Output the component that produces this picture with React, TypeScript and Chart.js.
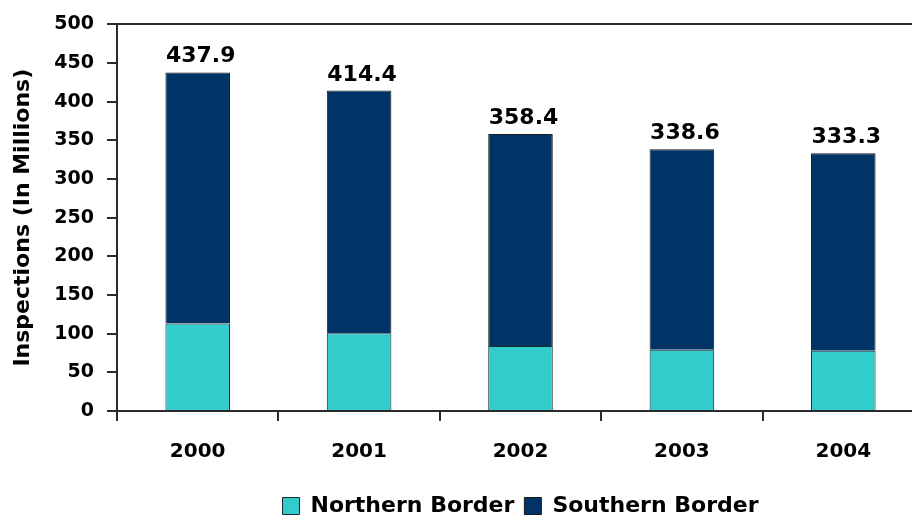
import React, { useEffect, useRef } from "react";
import { Chart, registerables } from "chart.js";

Chart.register(...registerables);

const years = ["2000", "2001", "2002", "2003", "2004"];
const northern = [113.3, 100.5, 84.0, 79.2, 78.0];
const southern = [324.6, 313.9, 274.4, 259.4, 255.3];
const yTicks = [0, 50, 100, 150, 200, 250, 300, 350, 400, 450, 500];

const FONT = "'DejaVu Sans', sans-serif";
const DARK = "#2a2a2a";

const totalsPlugin = {
  id: "totals",
  afterDatasetsDraw(chart: any) {
    const ctx = chart.ctx;
    const meta = chart.getDatasetMeta(1);
    ctx.save();
    ctx.font = `bold 22px ${FONT}`;
    ctx.fillStyle = "#000";
    ctx.textAlign = "center";
    ctx.textBaseline = "alphabetic";
    meta.data.forEach((bar: any, i: number) => {
      const total = (northern[i] + southern[i]).toFixed(1);
      ctx.fillText(total, bar.x + 3, bar.y - 10);
    });
    ctx.restore();
  },
};

export default function App() {
  const ref = useRef<HTMLCanvasElement | null>(null);
  useEffect(() => {
    document.body.style.margin = "0";
    document.body.style.overflow = "hidden";
    const chart = new Chart(ref.current as HTMLCanvasElement, {
      type: "bar",
      data: {
        labels: years,
        datasets: [
          {
            label: "Northern Border",
            data: northern,
            backgroundColor: "#33CCCC",
            borderColor: "#1a2a2e",
            borderWidth: 1,
            categoryPercentage: 0.8,
            barPercentage: 0.5,
          },
          {
            label: "Southern Border",
            data: southern,
            backgroundColor: "#003366",
            borderColor: "#1a1a1a",
            borderWidth: 1,
            categoryPercentage: 0.8,
            barPercentage: 0.5,
          },
        ],
      },
      options: {
        animation: false,
        responsive: true,
        maintainAspectRatio: false,
        layout: { padding: { top: 21, right: 2, bottom: 0, left: 0 } },
        plugins: {
          tooltip: { enabled: false },
          legend: {
            position: "bottom",
            fullSize: false,
            maxHeight: 37,
            labels: {
              font: { family: FONT, size: 22, weight: "bold" },
              color: "#000",
              boxWidth: 17,
              boxHeight: 17,
              padding: 10,
            },
          },
        },
        scales: {
          x: {
            stacked: true,
            afterFit: (s: any) => {
              s.height = 74;
            },
            border: { display: true, color: DARK, width: 2 },
            grid: {
              offset: true,
              drawOnChartArea: false,
              drawTicks: true,
              tickLength: 10,
              tickColor: DARK,
              lineWidth: 2,
            },
            ticks: {
              font: { family: FONT, size: 20, weight: "bold" },
              color: "#000",
              padding: 19,
            },
          },
          y: {
            stacked: true,
            min: 0,
            max: 500,
            afterFit: (s: any) => {
              s.width = 117;
            },
            afterBuildTicks: (s: any) => {
              s.ticks = yTicks.map((v) => ({ value: v }));
            },
            border: { display: true, color: DARK, width: 2 },
            grid: {
              color: (c: any) => (c.tick && c.tick.value === 500 ? DARK : "rgba(0,0,0,0)"),
              tickColor: DARK,
              lineWidth: 2,
              tickLength: 10,
            },
            ticks: {
              font: { family: FONT, size: 19, weight: "bold" },
              color: "#000",
              padding: 13,
            },
            title: {
              display: true,
              text: "Inspections (In Millions)",
              font: { family: FONT, size: 22, weight: "bold" },
              color: "#000",
              padding: { top: 10, bottom: 0 },
            },
          },
        },
      },
      plugins: [totalsPlugin],
    });
    return () => chart.destroy();
  }, []);
  return (
    <div style={{ width: 926, height: 522, position: "relative" }}>
      <canvas ref={ref} />
    </div>
  );
}
